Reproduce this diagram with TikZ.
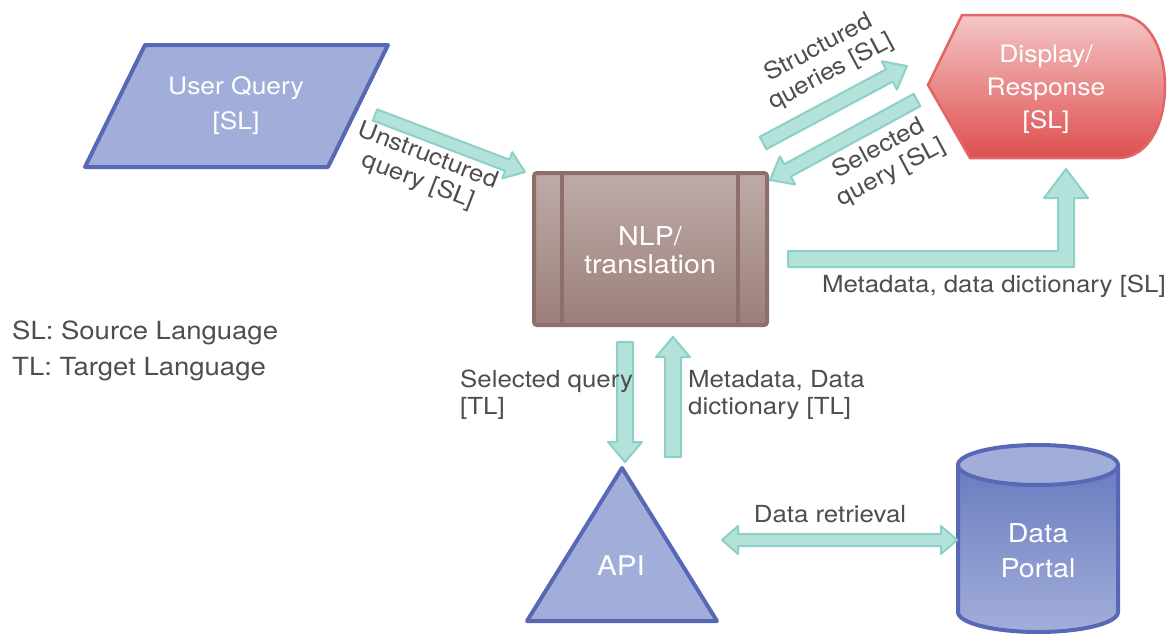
\documentclass[tikz,border=0pt]{standalone}
\usepackage{fontspec}
\setmainfont{TeX Gyre Heros}[FakeStretch=1.1]
\usetikzlibrary{calc}

\definecolor{shapeblue}{HTML}{A2AEDA}
\definecolor{shapeblueline}{HTML}{5868B6}
\definecolor{cylbluetop}{HTML}{6A7CC0}
\definecolor{nlptop}{HTML}{BDABA8}
\definecolor{nlpbottom}{HTML}{9C7F7A}
\definecolor{nlpline}{HTML}{8E6F6A}
\definecolor{disptop}{HTML}{F5C6C6}
\definecolor{dispmid}{HTML}{E46A6A}
\definecolor{dispbottom}{HTML}{DE4F4F}
\definecolor{displine}{HTML}{E36464}
\definecolor{flowfill}{HTML}{B3E2DB}
\definecolor{flowline}{HTML}{8DD0C7}
\definecolor{labelgray}{HTML}{4E4E4E}

\tikzset{
  flowarrow/.style={fill=flowfill, draw=flowline, line width=2pt, line join=round},
  lbl/.style={text=labelgray, font=\fontsize{23.5}{27}\selectfont, inner sep=0pt},
  shapetext/.style={text=white, align=center, inner sep=0pt},
  blueshape/.style={fill=shapeblue, draw=shapeblueline, line width=4pt, line join=round},
}

% straight block arrow: tail, tip, shaft half-width, head half-width, head length
\newcommand{\blockarrow}[5]{%
  \coordinate (ba-n) at ($(#2)!#5!(#1)$);
  \filldraw[flowarrow] ($(#1)!#3!90:(#2)$) -- ($(ba-n)!#3!90:(#2)$)
    -- ($(ba-n)!#4!90:(#2)$) -- (#2) -- ($(ba-n)!#4!-90:(#2)$)
    -- ($(ba-n)!#3!-90:(#2)$) -- ($(#1)!#3!-90:(#2)$) -- cycle;
}
% block arrow with a head at both ends
\newcommand{\twowayarrow}[5]{%
  \coordinate (ba-a) at ($(#1)!#5!(#2)$);
  \coordinate (ba-b) at ($(#2)!#5!(#1)$);
  \filldraw[flowarrow] (#1) -- ($(ba-a)!#4!90:(#2)$) -- ($(ba-a)!#3!90:(#2)$)
    -- ($(ba-b)!#3!90:(#2)$) -- ($(ba-b)!#4!90:(#2)$) -- (#2)
    -- ($(ba-b)!#4!-90:(#2)$) -- ($(ba-b)!#3!-90:(#2)$)
    -- ($(ba-a)!#3!-90:(#2)$) -- ($(ba-a)!#4!-90:(#2)$) -- cycle;
}

\begin{document}
\begin{tikzpicture}[x=1pt, y=-1pt]
\useasboundingbox (0,0) rectangle (1173,633);
\fill[white] (0,0) rectangle (1173,633);

% ---- User query (parallelogram)
\draw[blueshape] (145,45) -- (388,45) -- (328,167) -- (85,167) -- cycle;
\node[shapetext, font=\fontsize{24}{35}\selectfont] (uq) at (236,106) {User Query\\{}[SL]};

% ---- NLP / translation box
\shade[top color=nlptop, bottom color=nlpbottom, rounded corners=3pt]
  (534,173) rectangle (767,325);
\draw[nlpline, line width=4pt, rounded corners=3pt] (534,173) rectangle (767,325);
\draw[nlpline, line width=3.5pt] (562,173) -- (562,325) (738,173) -- (738,325);
\node[shapetext, font=\fontsize{26}{28}\selectfont] (nlp) at (650,250) {NLP/\\translation};

% ---- Display / response
\shade[top color=disptop, middle color=dispmid, bottom color=dispbottom]
  (928,85) -- (962,15) -- (1120,15) .. controls (1180,18) and (1180,155) .. (1120,158)
  -- (970,158) -- cycle;
\draw[displine, line width=2.5pt, line join=round]
  (928,85) -- (962,15) -- (1120,15) .. controls (1180,18) and (1180,155) .. (1120,158)
  -- (970,158) -- cycle;
\node[shapetext, font=\fontsize{24}{33}\selectfont] (disp) at (1046,89) {Display/\\Response\\{}[SL]};

% ---- API (triangle)
\draw[blueshape] (622,468) -- (717,621) -- (527,621) -- cycle;
\node[shapetext, font=\fontsize{27}{30}\selectfont] (api) at (621,566) {API};

% ---- Data portal (cylinder)
\shade[top color=cylbluetop, bottom color=shapeblue]
  (958,465) -- (958,612) arc[start angle=180, end angle=360, x radius=80pt, y radius=20pt]
  -- (1118,465) -- cycle;
\draw[shapeblueline, line width=4pt, line join=round]
  (958,465) -- (958,612) arc[start angle=180, end angle=360, x radius=80pt, y radius=20pt]
  -- (1118,465);
\filldraw[blueshape] (1038,465) ellipse[x radius=80pt, y radius=20pt];
\node[shapetext, font=\fontsize{26}{35}\selectfont] (portal) at (1038,551) {Data\\Portal};

% ---- connector end points
\coordinate (uq-out) at (375,115);
\coordinate (nlp-in) at (525,172);
\coordinate (sq-from) at (763,143);
\coordinate (sq-to) at (907,66);
\coordinate (sel-from) at (917,100);
\coordinate (sel-to) at (770,180);
\coordinate (down-from) at (625,342);
\coordinate (down-to) at (625,462);
\coordinate (up-from) at (673,457);
\coordinate (up-to) at (673,337);
\coordinate (api-side) at (722,540);
\coordinate (portal-side) at (957,540);

% ---- connectors
\blockarrow{uq-out}{nlp-in}{6pt}{14pt}{19pt}
\blockarrow{sq-from}{sq-to}{7pt}{16pt}{20pt}
\blockarrow{sel-from}{sel-to}{7pt}{16pt}{20pt}
\blockarrow{down-from}{down-to}{8pt}{17pt}{20pt}
\blockarrow{up-from}{up-to}{8pt}{17pt}{20pt}
\twowayarrow{api-side}{portal-side}{6pt}{14pt}{16pt}
\filldraw[flowarrow] (788,251) -- (1058,251) -- (1058,198) -- (1044,198) -- (1066,169)
  -- (1088,198) -- (1074,198) -- (1074,267) -- (788,267) -- cycle;

% ---- connector labels
\node[lbl, align=center, rotate=-21] (l-unstr) at (423,169) {Unstructured\\query [SL]};
\node[lbl, align=center, rotate=28] (l-struct) at (825,60) {Structured\\queries [SL]};
\node[lbl, align=center, rotate=28] (l-selsl) at (885,161) {Selected\\query [SL]};
\node[lbl, anchor=east] (l-meta) at (1166,286) {Metadata, data dictionary [SL]};
\node[lbl, align=left, anchor=north west] (l-seltl) at (460,370) {Selected query\\{}[TL]};
\node[lbl, align=left, anchor=north west] (l-metatl) at (688,370) {Metadata, Data\\dictionary [TL]};
\node[lbl] (l-retr) at (830,514) {Data retrieval};

% ---- legend
\node[text=labelgray, font=\fontsize{25}{36}\selectfont, align=left, anchor=north west, inner sep=0pt]
  (legend) at (12,321) {SL: Source Language\\TL: Target Language};
\end{tikzpicture}
\end{document}
